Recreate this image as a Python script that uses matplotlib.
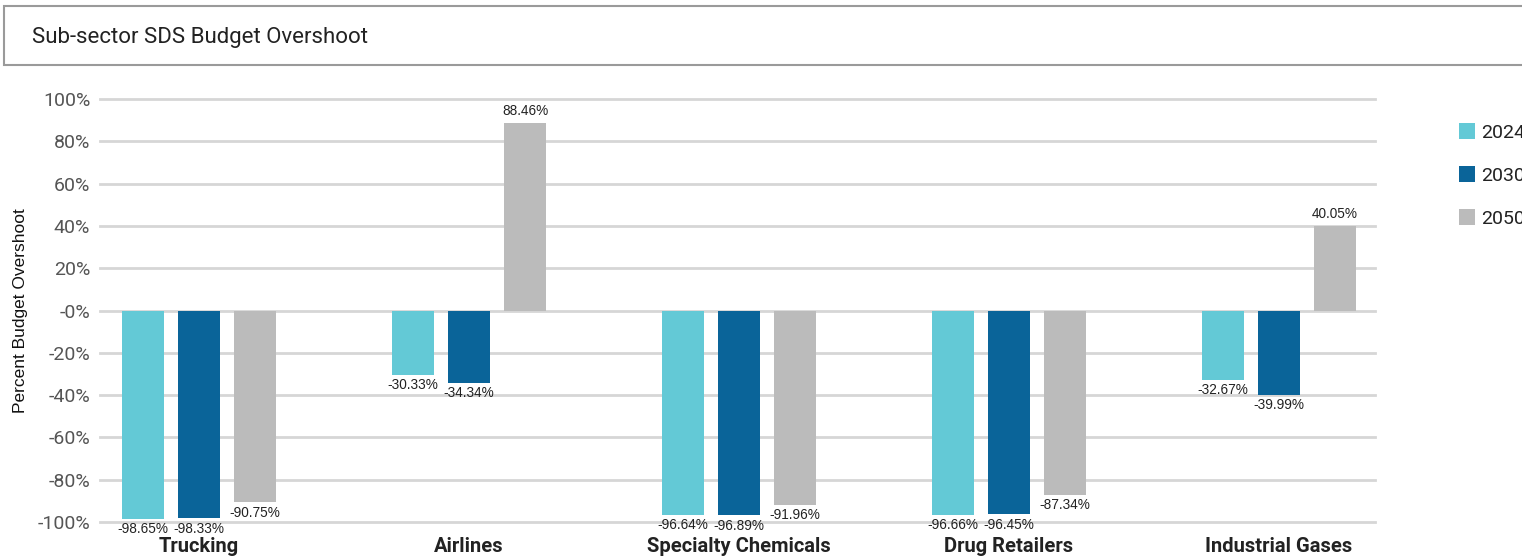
import matplotlib.pyplot as plt
import numpy as np
from matplotlib.patches import Rectangle

categories = ['Trucking', 'Airlines', 'Specialty Chemicals', 'Drug Retailers', 'Industrial Gases']
years = ['2024', '2030', '2050']
vals_2024 = [-98.65, -30.33, -96.64, -96.66, -32.67]
vals_2030 = [-98.33, -34.34, -96.89, -96.45, -39.99]
vals_2050 = [-90.75, 88.46, -91.96, -87.34, 40.05]
colors = ['#63c9d6', '#0a6499', '#bbbbbb']

yticks = [100, 80, 60, 40, 20, 0, -20, -40, -60, -80, -100]
ytick_labels = ['100%', '80%', '60%', '40%', '20%', '-0%', '-20%', '-40%', '-60%', '-80%', '-100%']

plt.rcParams['font.family'] = ['Roboto', 'DejaVu Sans']

fig = plt.figure(figsize=(15.22, 5.59), dpi=100)

# title box
fig.patches.append(Rectangle((4 / 1522, 1 - 65 / 559), 1.0, 59 / 559, transform=fig.transFigure,
                             facecolor='white', edgecolor='#9a9a9a', linewidth=1.5, clip_on=False))
fig.text(32 / 1522, 1 - 37 / 559, 'Sub-sector SDS Budget Overshoot', fontsize=16,
         color='#222222', va='center', ha='left')

ax = fig.add_axes([100 / 1522, 1 - 522 / 559, 1275 / 1522, 423 / 559])
x = np.arange(len(categories))
step = 56 / 270
width = 42 / 270
series = [vals_2024, vals_2030, vals_2050]
for i, (vals, col, yr) in enumerate(zip(series, colors, years)):
    xs = x + (i - 1) * step
    ax.bar(xs, vals, width, color=col, label=yr, zorder=3)
    for xx, v in zip(xs, vals):
        if v >= 0:
            ax.text(xx, v + 2.5, '{:.2f}%'.format(v), ha='center', va='bottom',
                    fontsize=9.8, family='Liberation Sans', color='#222222')
        else:
            ax.text(xx, v - 1.5, '{:.2f}%'.format(v), ha='center', va='top',
                    fontsize=9.8, family='Liberation Sans', color='#222222')

ax.set_xlim((100 - 199) / 270, (1375 - 199) / 270)
ax.set_ylim(-100, 100)
ax.set_yticks(yticks)
ax.set_yticklabels(ytick_labels, fontsize=14, color='#555555')
ax.tick_params(axis='y', length=0, pad=7)
ax.set_xticks(x)
ax.set_xticklabels(categories, fontsize=14.5, fontweight='bold', color='#222222')
ax.tick_params(axis='x', length=0, pad=11)
ax.grid(axis='y', color='#d6d6d6', linewidth=2, zorder=0)
for gl in ax.get_ygridlines():
    gl.set_clip_on(False)
for s in ax.spines.values():
    s.set_visible(False)
ax.set_ylabel('Percent Budget Overshoot', fontsize=12.5, family='Liberation Sans', color='#111111')
ax.yaxis.set_label_coords(-72 / 1275, 0.5)

leg = ax.legend(loc='upper left', bbox_to_anchor=(1441 / 1522, 1 - 106 / 559),
                bbox_transform=fig.transFigure, frameon=False, fontsize=14,
                handlelength=0.85, handleheight=0.85, handletextpad=0.3, labelspacing=1.25)
for t in leg.get_texts():
    t.set_color('#222222')

fig.savefig('out.png', dpi=100)
